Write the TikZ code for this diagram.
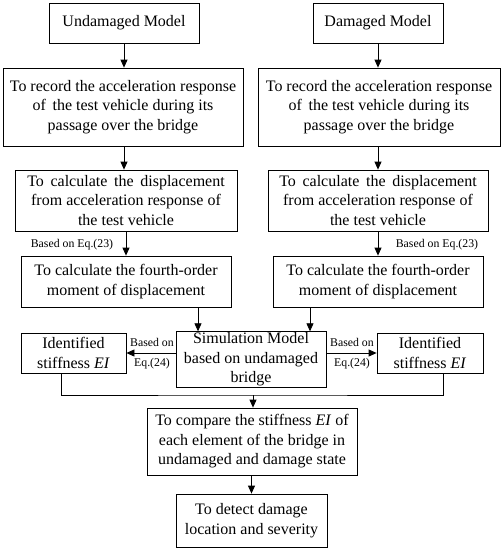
\documentclass[tikz,border=0pt]{standalone}
\usepackage{fontspec}
\setmainfont{Liberation Serif}
\usetikzlibrary{arrows.meta}
\tikzset{
  stepbox/.style={draw, thick, align=center, inner sep=1pt, font=\fontsize{16}{19.5}\selectfont},
  arr/.style={thick, -{Triangle[length=8pt,width=7pt]}},
  eqlab/.style={font=\fontsize{11.8}{13}\selectfont, inner sep=1pt}
}
\begin{document}
\begin{tikzpicture}[x=1pt,y=-1pt]
\useasboundingbox (0,0) rectangle (503,550);
% top row
\node[stepbox, minimum width=150pt, minimum height=40pt] (um) at (124,23) {Undamaged Model};
\node[stepbox, minimum width=130pt, minimum height=40pt] (dm) at (378,23) {Damaged Model};
\node[stepbox, minimum width=240pt, minimum height=78pt] (recL) at (123,107) {To record the acceleration response\\of\, the test vehicle during its\\passage over the bridge};
\node[stepbox, minimum width=242pt, minimum height=78pt] (recR) at (379,107) {To record the acceleration response\\of\, the test vehicle during its\\passage over the bridge};
\node[stepbox, minimum width=222pt, minimum height=61pt] (calL) at (126,200.5) {To\, calculate\, the\, displacement\\from acceleration response of\\the test vehicle};
\node[stepbox, minimum width=220pt, minimum height=61pt] (calR) at (378,200.5) {To\, calculate\, the\, displacement\\from acceleration response of\\the test vehicle};
\node[stepbox, minimum width=210pt, minimum height=51pt] (fouL) at (126,281.5) {To calculate the fourth-order\\moment of displacement};
\node[stepbox, minimum width=210pt, minimum height=51pt] (fouR) at (378,281.5) {To calculate the fourth-order\\moment of displacement};
% middle row
\node[stepbox, minimum width=150pt, minimum height=55pt] (sim) at (251,359.5) {Simulation Model\\based on undamaged\\bridge};
\node[stepbox, minimum width=105pt, minimum height=40pt] (idL) at (73.5,353) {Identified\\stiffness \textit{EI}};
\node[stepbox, minimum width=106pt, minimum height=40pt] (idR) at (430,353) {Identified\\stiffness \textit{EI}};
% bottom
\node[stepbox, minimum width=210pt, minimum height=67pt] (cmp) at (252,441.5) {To compare the stiffness \textit{EI} of\\each element of the bridge in\\undamaged and damage state};
\node[stepbox, minimum width=151pt, minimum height=53pt] (det) at (251.5,520.5) {To detect damage\\location and severity};
% labels
\node[eqlab] (eq23L) at (72,245) {Based on Eq.(23)};
\node[eqlab] (eq23R) at (437,245) {Based on Eq.(23)};
\node[eqlab] (bL) at (152,342) {Based on};
\node[eqlab] (eL) at (152,364) {Eq.(24)};
\node[eqlab] (bR) at (352,342) {Based on};
\node[eqlab] (eR) at (352,364) {Eq.(24)};
% arrows
\draw[arr] (um) -- (um.south |- recL.north);
\draw[arr] (dm) -- (dm.south |- recR.north);
\draw[arr] (recL.south -| 124,0) -- (124,0 |- calL.north);
\draw[arr] (recR.south -| 378,0) -- (378,0 |- calR.north);
\draw[arr] (calL.south -| 126,0) -- (126,0 |- fouL.north);
\draw[arr] (calR.south -| 378,0) -- (378,0 |- fouR.north);
\draw[arr] (fouL.south -| 198,0) -- (198,0 |- sim.north);
\draw[arr] (fouR.south -| 310,0) -- (310,0 |- sim.north);
\draw[arr] (sim.west |- idL) -- (idL.east);
\draw[arr] (sim.east |- idR) -- (idR.east -| idR.west);
\coordinate (mrg) at (253,395);
\draw[thick] (idL.south -| 61,0) |- (mrg) -| (idR.south -| 443,0);
\draw[arr] (mrg) -- (mrg |- cmp.north);
\draw[arr] (cmp.south -| 251.5,0) -- (251.5,0 |- det.north);
\end{tikzpicture}
\end{document}
